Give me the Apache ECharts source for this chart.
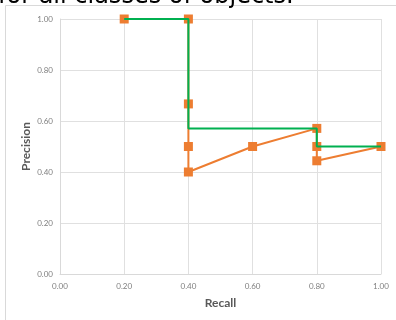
<!DOCTYPE html>
<html>
<head>
<meta charset="utf-8">
<script src="https://cdn.jsdelivr.net/npm/echarts@6/dist/echarts.min.js"></script>
<style>html,body{margin:0;padding:0;background:#fff;}#c{width:396px;height:320px;}</style>
</head>
<body>
<div id="c"></div>
<script>
var recallPoints = [0.2, 0.4, 0.4, 0.4, 0.4, 0.6, 0.8, 0.8, 0.8, 1.0];
var precisionPoints = [1.0, 1.0, 0.667, 0.5, 0.4, 0.5, 0.571, 0.5, 0.444, 0.5];
var interpRecall = [0.2, 0.4, 0.4, 0.8, 0.8, 1.0];
var interpPrecision = [1.0, 1.0, 0.571, 0.571, 0.5, 0.5];
var titleText = 'for all classes of objects.';
var xName = 'Recall';
var yName = 'Precision';

function pairs(xs, ys) { return xs.map(function (x, i) { return [x, ys[i]]; }); }

var chart = echarts.init(document.getElementById('c'));
var tickLabel = { color: '#7f7f7f', fontSize: 8, fontFamily: 'Lato', formatter: function (v) { return v.toFixed(2); } };
chart.setOption({
  animation: false,
  grid: { left: 60, right: 15, top: 19, bottom: 46 },
  graphic: [
    { type: 'rect', shape: { x: 5.5, y: 5.5, width: 600, height: 600 }, style: { fill: 'none', stroke: '#d9d9d9', lineWidth: 1 }, silent: true },
    { type: 'text', left: -2, top: -15, style: { text: titleText, font: '24px "DejaVu Sans"', fill: '#000' } }
  ],
  xAxis: {
    type: 'value', min: 0, max: 1, interval: 0.2,
    name: xName, nameLocation: 'middle', nameGap: 23, nameMoveOverlap: false,
    nameTextStyle: { fontFamily: 'Lato', fontWeight: 'bold', fontSize: 12, color: '#595959' },
    axisLine: { lineStyle: { color: '#d9d9d9' } },
    axisTick: { show: false },
    axisLabel: tickLabel,
    splitLine: { lineStyle: { color: '#e0e0e0' } }
  },
  yAxis: {
    type: 'value', min: 0, max: 1, interval: 0.2,
    name: yName, nameLocation: 'middle', nameGap: 28, nameMoveOverlap: false,
    nameTextStyle: { fontFamily: 'Lato', fontWeight: 'bold', fontSize: 12, color: '#595959' },
    axisLine: { show: true, lineStyle: { color: '#d9d9d9' } },
    axisTick: { show: false },
    axisLabel: Object.assign({}, tickLabel, { margin: 7 }),
    splitLine: { lineStyle: { color: '#e0e0e0' } }
  },
  series: [
    {
      type: 'line', data: pairs(recallPoints, precisionPoints),
      symbol: 'rect', symbolSize: 9,
      lineStyle: { color: '#ED7D31', width: 2 },
      itemStyle: { color: '#ED7D31' }, z: 2
    },
    {
      type: 'line', data: pairs(interpRecall, interpPrecision),
      symbol: 'none',
      lineStyle: { color: '#00B050', width: 2 }, z: 3
    }
  ]
});
</script>
</body>
</html>
